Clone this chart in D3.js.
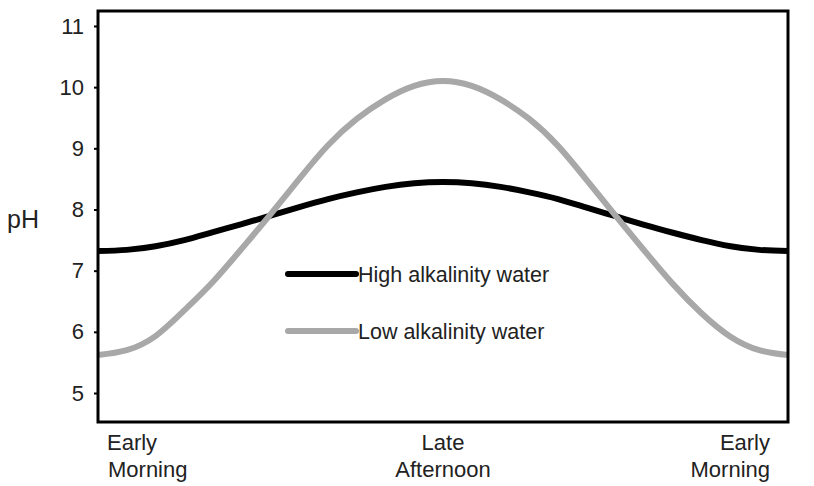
<!DOCTYPE html>
<html><head><meta charset="utf-8">
<script src="https://cdn.jsdelivr.net/npm/d3@7"></script>
<style>body{margin:0;background:#fff}svg{display:block}text{font-family:Arial,"Liberation Sans",sans-serif;fill:#222}</style>
</head><body><svg id="c" width="814" height="486"></svg>
<script>
// Time steps across the day (0 = early morning, 6 = late afternoon, 12 = early morning)
const hours = [0,0.5,1,1.5,2,2.5,3,3.5,4,4.5,5,5.5,6,6.5,7,7.5,8,8.5,9,9.5,10,10.5,11,11.5,12];
const highAlk = [7.32,7.34,7.40,7.50,7.63,7.76,7.90,8.04,8.17,8.28,8.37,8.43,8.45,8.43,8.37,8.28,8.17,8.03,7.89,7.75,7.62,7.50,7.40,7.34,7.32];
const lowAlk  = [5.62,5.70,5.93,6.35,6.82,7.36,7.92,8.50,9.05,9.48,9.80,10.02,10.10,10.02,9.80,9.48,9.04,8.48,7.90,7.33,6.78,6.30,5.92,5.70,5.62];
const yTicks = [5,6,7,8,9,10,11];
const seriesNames = ["High alkalinity water","Low alkalinity water"];
const seriesColors = ["#000000","#a8a8a8"];
const xLabels = [{t:0,lines:["Early","Morning"],anchor:"start"},{t:6,lines:["Late","Afternoon"],anchor:"middle"},{t:12,lines:["Early","Morning"],anchor:"end"}];

const svg = d3.select("#c");
const L=98,R=788,T=11,B=422;
const x = d3.scaleLinear().domain([0,12]).range([L,R]);
const y = d3.scaleLinear().domain([4.526,11.245]).range([B,T]);

// y axis ticks
const ya = svg.append("g").attr("transform",`translate(${L},0)`)
  .call(d3.axisLeft(y).tickValues(yTicks).tickSize(4).tickPadding(10).tickFormat(d3.format("d")));
ya.select(".domain").remove();
ya.selectAll("line").attr("stroke","#000").attr("stroke-width",2);
ya.selectAll("text").style("font-size","22px").attr("fill","#222");

// curves
const line = d3.line().x((d,i)=>x(hours[i])).y(d=>y(d)).curve(d3.curveNatural);
[highAlk,lowAlk].forEach((s,k)=>{
  svg.append("path").attr("d",line(s)).attr("fill","none")
    .attr("stroke",seriesColors[k]).attr("stroke-width",6);
});

// frame
svg.append("rect").attr("x",L).attr("y",T).attr("width",R-L).attr("height",B-T)
  .attr("fill","none").attr("stroke","#000").attr("stroke-width",3);

// y label
svg.append("text").attr("x",7).attr("y",228).style("font-size","25px").text("pH");

// x labels
const xoff={start:9,middle:0,end:-18};
xLabels.forEach(l=>{
  l.lines.forEach((ln,i)=>{
    svg.append("text").attr("x",x(l.t)+xoff[l.anchor]+(l.anchor==="start"&&i===1?1:0))
      .attr("y",450+i*27).attr("text-anchor",l.anchor).style("font-size","22px").text(ln);
  });
});

// legend
const lg=[274,331];
seriesNames.forEach((n,k)=>{
  svg.append("line").attr("x1",288).attr("x2",356).attr("y1",lg[k]).attr("y2",lg[k])
    .attr("stroke",seriesColors[k]).attr("stroke-width",6).attr("stroke-linecap","round");
  svg.append("text").attr("x",358).attr("y",lg[k]).attr("dy","0.35em").style("font-size","21.5px").text(n);
});
</script></body></html>
